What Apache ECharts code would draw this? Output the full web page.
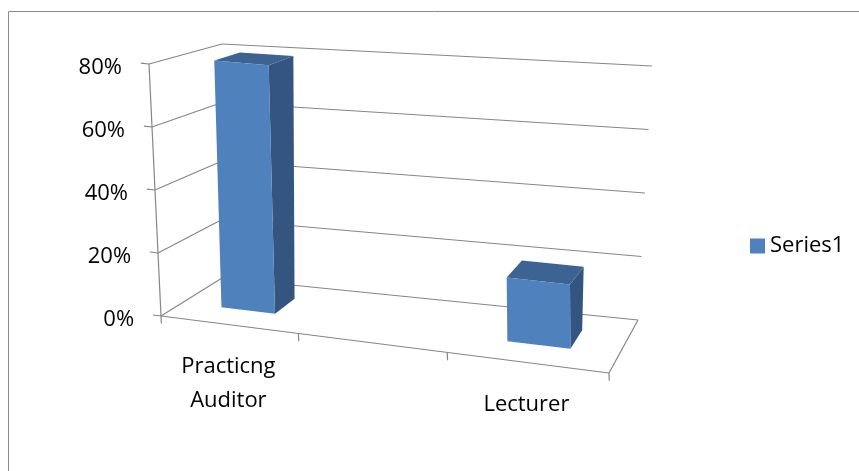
<!DOCTYPE html>
<html>
<head>
<meta charset="utf-8">
<script src="https://cdn.jsdelivr.net/npm/echarts@6/dist/echarts.min.js"></script>
<style>
  html, body { margin: 0; padding: 0; background: #fff; }
  #chart { width: 859px; height: 471px; }
</style>
</head>
<body>
<div id="chart"></div>
<script>
// data
const categories = ['Practicng\nAuditor', '', 'Lecturer'];
const series1 = [0.8, null, 0.2];
const valueTicks = [0, 0.2, 0.4, 0.6, 0.8];
const tickLabels = ['0%', '20%', '40%', '60%', '80%'];

// corners of the 3D box on screen (floor / top plane)
const floorFL = [161, 316], floorFR = [609, 373], floorBR = [638, 320], floorBL = [222, 278];
const topFL = [149, 64], topFR = [600, 112], topBR = [652, 66], topBL = [222, 44];
const persp = 0.13;       // foreshortening along the category axis
const depth0 = 0.35, depth1 = 0.71;
const gridColor = '#868686';
const font = '"Open Sans", Lato, sans-serif';

function lerp(a, b, k) { return [a[0] + (b[0] - a[0]) * k, a[1] + (b[1] - a[1]) * k]; }
function project(u, v, w) {
  const f = lerp(lerp(floorFL, floorFR, u), lerp(floorBL, floorBR, u), w);
  const t = lerp(lerp(topFL, topFR, u), lerp(topBL, topBR, u), w);
  return lerp(f, t, v);
}
function toU(t) { return t / (1 + persp * (1 - t)); }
function seg(a, b) {
  return { type: 'polyline', shape: { points: [a, b] }, style: { stroke: gridColor, lineWidth: 1.2, fill: null } };
}

const chart = echarts.init(document.getElementById('chart'));

const option = {
  animation: false,
  graphic: [{
    type: 'rect', shape: { x: 8.5, y: 11.5, width: 1000, height: 1000 },
    style: { stroke: '#8a8a8a', lineWidth: 1, fill: null }, silent: true
  }],
  legend: {
    data: ['Series1'], left: 745, top: 230, icon: 'rect',
    itemWidth: 15, itemHeight: 15,
    textStyle: { fontSize: 22, fontFamily: font, color: '#000' }
  },
  grid: { left: 161, top: 64, width: 448, height: 252 },
  xAxis: { type: 'category', data: categories, show: false },
  yAxis: { type: 'value', min: 0, max: 0.8, interval: 0.2, show: false },
  series: [
    {
      // value gridlines, ticks, labels
      type: 'custom', z: 1, silent: true,
      data: valueTicks.map(v => [0, v]),
      renderItem(params, api) {
        const cs = params.coordSys;
        const p = api.coord([0, api.value(1)]);
        const v = (cs.y + cs.height - p[1]) / cs.height;
        const i = params.dataIndex;
        const children = [
          seg(project(0, v, 1), project(1, v, 1)),
          seg(project(0, v, 0), project(0, v, 1)),
          seg(project(0, v, 0), project(-0.018, v, 0))
        ];
        const lp = project(-0.06, v, 0);
        children.push({
          type: 'text',
          style: { text: tickLabels[i], x: lp[0], y: lp[1] + 7, align: 'right', verticalAlign: 'middle',
                   fontSize: 22, fontFamily: font, fill: '#000' }
        });
        if (i === 0) children.push(seg(project(0, 0, 0), project(0, 1, 0)));
        return { type: 'group', children };
      }
    },
    {
      // category axis, ticks, labels
      type: 'custom', z: 1, silent: true,
      data: categories.map((c, i) => [i, 0]),
      renderItem(params, api) {
        const cs = params.coordSys;
        const i = params.dataIndex;
        const c = api.coord([api.value(0), 0]);
        const bw = api.size([1, 0])[0];
        const tl = (c[0] - bw / 2 - cs.x) / cs.width;
        const tr = (c[0] + bw / 2 - cs.x) / cs.width;
        const tc = (c[0] - cs.x) / cs.width;
        const children = [seg(project(toU(tl), 0, 0), project(toU(tl), -0.03, 0))];
        if (i === categories.length - 1) {
          children.push(seg(project(toU(tr), 0, 0), project(toU(tr), -0.03, 0)));
        }
        if (i === 0) {
          children.push(seg(project(0, 0, 0), project(1, 0, 0)));
          children.push(seg(project(1, 0, 0), project(1, 0, 1)));
        }
        const lp = project(toU(tc), 0, 0);
        children.push({
          type: 'text',
          style: { text: categories[i], x: lp[0], y: lp[1] + 25, align: 'center', verticalAlign: 'top',
                   lineHeight: 34, fontSize: 22, fontFamily: font, fill: '#000' }
        });
        return { type: 'group', children };
      }
    },
    {
      name: 'Series1',
      type: 'custom', z: 2,
      itemStyle: { color: '#4F81BD' },
      data: series1.map((v, i) => [i, v]),
      renderItem(params, api) {
        const val = api.value(1);
        if (val == null || isNaN(val)) return;
        const cs = params.coordSys;
        const c = api.coord([api.value(0), val]);
        const base = api.coord([api.value(0), 0]);
        const bw = api.size([1, 0])[0];
        const u0 = toU((c[0] - bw * 0.2 - cs.x) / cs.width);
        const u1 = toU((c[0] + bw * 0.2 - cs.x) / cs.width);
        const v = (base[1] - c[1]) / cs.height;
        const w0 = depth0, w1 = depth1;
        const poly = (pts, fill) => ({ type: 'polygon', shape: { points: pts }, style: { fill, stroke: null } });
        return {
          type: 'group',
          children: [
            poly([project(u1, 0, w0), project(u1, 0, w1), project(u1, v, w1), project(u1, v, w0)], '#335580'),
            poly([project(u0, v, w0), project(u1, v, w0), project(u1, v, w1), project(u0, v, w1)], '#3c6392'),
            poly([project(u0, 0, w0), project(u1, 0, w0), project(u1, v, w0), project(u0, v, w0)], '#4F81BD')
          ]
        };
      }
    }
  ]
};

chart.setOption(option);
window.addEventListener('resize', () => chart.resize());
</script>
</body>
</html>
